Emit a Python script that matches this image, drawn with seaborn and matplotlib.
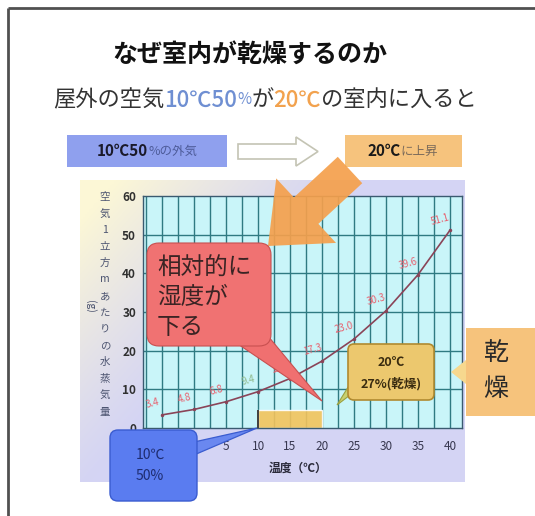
import numpy as np
import pandas as pd
import matplotlib
matplotlib.use("Agg")
import matplotlib.pyplot as plt
import seaborn as sns
from matplotlib.patches import FancyBboxPatch, Polygon, Rectangle, FancyArrow

# Saturated water vapour per cubic metre of air
temps = [-5, 0, 5, 10, 15, 20, 25, 30, 35, 40]
vapor = [3.4, 4.8, 6.8, 9.4, 12.8, 17.3, 23.0, 30.3, 39.6, 51.1]
xticks = [5, 10, 15, 20, 25, 30, 35, 40]
yticks = [0, 10, 20, 30, 40, 50, 60]

outdoor_temp = 10
indoor_temp = 20
outdoor_rh = 50
indoor_rh = 27
moisture = 4.7  # g per m3 in 10℃ / 50% air

title = "なぜ室内が乾燥するのか"
ylabel_chars = "空気1立方mあたりの水蒸気量"
xlabel = "温度（℃）"

sns.set_theme(style="white")
plt.rcParams["font.family"] = ["Noto Sans CJK JP", "DejaVu Sans"]

W, H = 535, 516
fig = plt.figure(figsize=(W / 100, H / 100), dpi=100)
fig.patch.set_facecolor("white")


def px_axes(z):
    a = fig.add_axes([0, 0, 1, 1], zorder=z)
    a.set_xlim(0, W)
    a.set_ylim(H, 0)
    a.axis("off")
    a.patch.set_alpha(0)
    return a


# ---- background layer: frame and chart panel ----
bg = px_axes(0)
bg.plot([8, W], [8, 8], color="#505050", lw=2, solid_capstyle="butt")
bg.plot([8, 8], [8, H], color="#505050", lw=2, solid_capstyle="butt")
bg.add_patch(Rectangle((80, 180), 385, 302, facecolor="#d4d4f4", edgecolor="none"))
gx, gy = np.meshgrid(np.linspace(0, 1, 200), np.linspace(0, 1, 200))
fade = np.clip(1.15 - (gx * 1.6 + gy * 1.1), 0, 1) ** 1.2
grad = np.zeros((200, 200, 4))
grad[..., 0] = 0.99
grad[..., 1] = 0.97
grad[..., 2] = 0.84
grad[..., 3] = fade
bg.imshow(grad, extent=(80, 465, 482, 180), origin="upper", aspect="auto", zorder=1)
bg.set_xlim(0, W)
bg.set_ylim(H, 0)

# ---- main chart ----
ax = fig.add_axes([143 / W, 88 / H, 319 / W, 232 / H], zorder=1)
ax.set_facecolor("#c9f5f9")
ax.set_xlim(-8, 41.9)
ax.set_ylim(0, 60)
for gxv in np.arange(-7.5, 41, 2.5):
    ax.axvline(gxv, color="#2f7a82", lw=1.0, zorder=1)
for gyv in yticks[1:-1]:
    ax.axhline(gyv, color="#2f7a82", lw=1.0, zorder=1)

ax.bar([outdoor_temp], [moisture], width=indoor_temp - outdoor_temp, align="edge",
       color="#f3c35c", alpha=0.9, zorder=2)
ax.vlines(outdoor_temp, 0, moisture, color="#404040", lw=1.4, zorder=3)

df = pd.DataFrame({"temp": temps, "vapor": vapor})
sns.lineplot(data=df, x="temp", y="vapor", ax=ax, color="#8a4458", lw=1.2,
             marker="o", markersize=2.5, markeredgewidth=0, zorder=4)
for t, v in zip(temps, vapor):
    col = "#8fb88a" if t == outdoor_temp else "#e8606e"
    ax.annotate(f"{v:.1f}", (t, v), xytext=(-7, 8), textcoords="offset points",
                fontsize=7, color=col, style="italic", rotation=15,
                ha="center", va="center", zorder=5)

ax.set_xticks(xticks)
ax.set_yticks(yticks)
ax.set_xticklabels([str(t) for t in xticks], fontsize=8.5, color="#383850")
ax.set_yticklabels([str(t) for t in yticks], fontsize=8.5, color="#303030", fontweight="bold")
ax.tick_params(axis="x", length=0, pad=9)
ax.tick_params(axis="y", length=0, pad=5)
ax.set_xlabel("")
ax.set_ylabel("")
for s in ax.spines.values():
    s.set_color("#3a5a70")
    s.set_linewidth(1.0)

# ---- overlay: titles, boxes and callouts ----
ov = px_axes(3)


def seq_text(cx, cy, parts):
    """Draw a row of differently styled text pieces centred at (cx, cy)."""
    fig.canvas.draw()
    r = fig.canvas.get_renderer()
    objs = []
    for s, kw in parts:
        t = ov.text(0, cy, s, va="center", ha="left", **kw)
        objs.append(t)
    widths = [t.get_window_extent(renderer=r).width for t in objs]
    x = cx - sum(widths) / 2
    for t, w in zip(objs, widths):
        t.set_x(x)
        x += w


ov.text(250, 55, title, ha="center", va="center", fontsize=18, fontweight="bold", color="#111111")

dark = dict(fontsize=16, color="#333333")
seq_text(265, 100, [
    ("屋外の空気", dark),
    (f"{outdoor_temp}℃{outdoor_rh}", dict(fontsize=16, color="#6f8fd2", fontweight="medium")),
    ("%", dict(fontsize=11, color="#6f8fd2")),
    ("が", dark),
    (f"{indoor_temp}℃", dict(fontsize=16, color="#f2a24e", fontweight="medium")),
    ("の室内に入ると", dark),
])

# top row: outdoor air box, hollow arrow, indoor box
ov.add_patch(Rectangle((67, 135), 160, 32, facecolor="#8fa0ee", edgecolor="none"))
seq_text(147, 151, [
    (f"{outdoor_temp}℃{outdoor_rh}", dict(fontsize=11, fontweight="bold", color="#1a1a2a")),
    ("%の外気", dict(fontsize=9, color="#4e5c9a")),
])
ov.add_patch(Polygon([(238, 144), (296, 144), (296, 137), (318, 151.5), (296, 166),
                      (296, 159), (238, 159)], closed=True, facecolor="white",
                     edgecolor="#c4c4b4", lw=1.2))
ov.add_patch(Rectangle((345, 135), 117, 32, facecolor="#f6c37d", edgecolor="none"))
seq_text(403, 151, [
    (f"{indoor_temp}℃", dict(fontsize=11, fontweight="bold", color="#1a1a1a")),
    ("に上昇", dict(fontsize=9, color="#7a6a5a")),
])

# big orange arrow pointing into the chart
ov.add_patch(FancyArrow(350, 170, -82, 76, width=36, head_width=88, head_length=52,
                        length_includes_head=True, facecolor="#f5a04c", edgecolor="none",
                        alpha=0.92))

# red callout
ov.add_patch(Polygon([(232, 340), (268, 336), (322, 401)], closed=True,
                     facecolor="#f07070", edgecolor="#c85050", lw=0.8))
ov.add_patch(FancyBboxPatch((147, 243), 124, 103, boxstyle="round,pad=0,rounding_size=12",
                            facecolor="#f07272", edgecolor="#c85050", lw=0.8))
for i, line in enumerate(["相対的に", "湿度が", "下る"]):
    ov.text(157, 268 + i * 29.5, line, ha="left", va="center", fontsize=17, color="#3a2424")

# indoor condition callout
ov.add_patch(Polygon([(350, 384), (354, 392), (337, 405)], closed=True,
                     facecolor="#c8d070", edgecolor="#9aa040", lw=0.8))
ov.add_patch(FancyBboxPatch((348, 344), 86, 56, boxstyle="round,pad=0,rounding_size=6",
                            facecolor="#ecc86e", edgecolor="#b08a30", lw=1.2))
ov.text(391, 362, f"{indoor_temp}℃", ha="center", va="center", fontsize=9,
        color="#3a2c10", fontweight="bold")
ov.text(391, 384, f"{indoor_rh}%(乾燥)", ha="center", va="center", fontsize=9,
        color="#3a2c10", fontweight="bold")

# dryness tag
ov.add_patch(Polygon([(466, 360), (466, 384), (451, 372)], closed=True,
                     facecolor="#f6d88e", edgecolor="none"))
ov.add_patch(Rectangle((466, 328), 70, 88, facecolor="#f6c37c", edgecolor="none"))
ov.text(496, 353, "乾", ha="center", va="center", fontsize=18, color="#2a2a2a")
ov.text(496, 389, "燥", ha="center", va="center", fontsize=18, color="#2a2a2a")

# outdoor condition callout
ov.add_patch(Polygon([(194, 442), (194, 455), (257, 428)], closed=True,
                     facecolor="#6a88f0", edgecolor="#3a5cd0", lw=0.9))
ov.add_patch(FancyBboxPatch((110, 430), 87, 71, boxstyle="round,pad=0,rounding_size=8",
                            facecolor="#5a7cf0", edgecolor="#3a5cd0", lw=1.0))
ov.text(150, 455, f"{outdoor_temp}℃", ha="center", va="center", fontsize=10, color="#1e2c70")
ov.text(150, 476, f"{outdoor_rh}%", ha="center", va="center", fontsize=10, color="#1e2c70")

# axis titles
for i, ch in enumerate(ylabel_chars):
    ov.text(105, 197 + i * 16.5, ch, ha="center", va="center", fontsize=7.5, color="#4c5470")
ov.text(90, 306, "(g)", ha="center", va="center", fontsize=7.5, color="#4c5470", rotation=-90)
ov.text(298, 468, xlabel, ha="center", va="center", fontsize=8.5, color="#2a2a3a",
        fontweight="bold")

fig.savefig("out.png", dpi=100)
